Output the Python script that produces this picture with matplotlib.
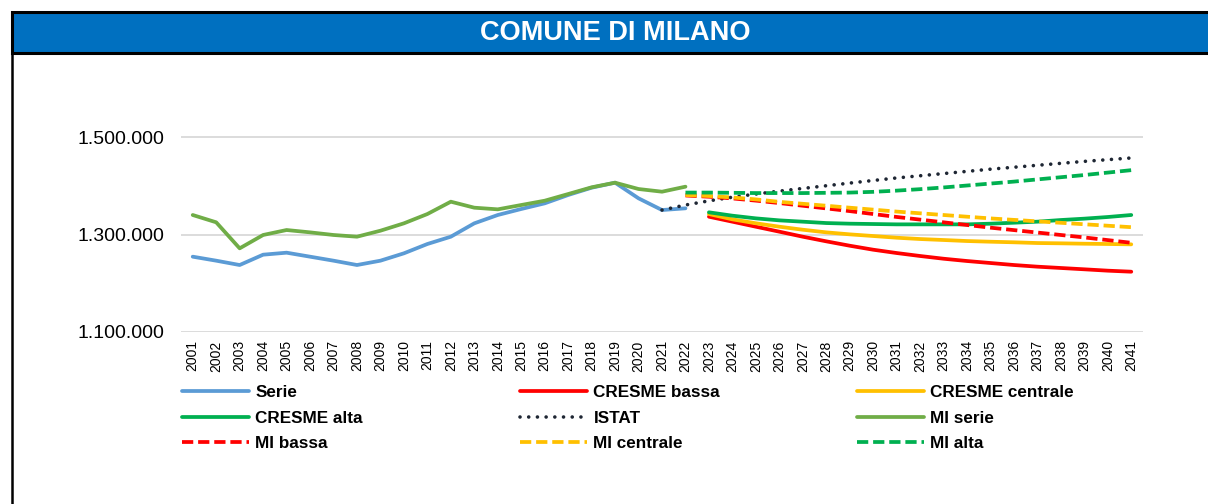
import numpy as np
import matplotlib
matplotlib.use('Agg')
import matplotlib.pyplot as plt
from matplotlib.patches import Rectangle
from matplotlib.lines import Line2D
from matplotlib.ticker import FuncFormatter

N = None
years = [str(y) for y in range(2001, 2042)]

serie = [1254500, 1246300, 1237400, 1258600, 1262700, 1254500, 1246300, 1237400,
         1246300, 1261400, 1280500, 1295500, 1322900, 1340000, 1352300, 1363900,
         1381000, 1396000, 1406300, 1374200, 1350200, 1353700] + [N] * 19
mi_serie = [1340000, 1325000, 1271600, 1299000, 1309200, 1304400, 1299000, 1295500,
            1307800, 1322900, 1342000, 1367300, 1355000, 1351600, 1360500, 1369300,
            1383000, 1396800, 1406300, 1393300, 1387800, 1398100] + [N] * 19
istat = [N] * 20 + [1350200, 1360500, 1369000, 1376500, 1383000, 1389000, 1394500,
                    1400000, 1405500, 1410800, 1416000, 1420500, 1425000, 1429500,
                    1434000, 1438000, 1442000, 1446000, 1450000, 1453500, 1457000]
mi_alta = [N] * 21 + [1386000, 1386000, 1385500, 1385000, 1385000, 1385000, 1385500,
                      1386000, 1387500, 1390000, 1393000, 1396500, 1400500, 1404500,
                      1408500, 1413000, 1417500, 1422000, 1427000, 1432000]
mi_centrale = [N] * 21 + [1381000, 1379000, 1376000, 1372000, 1367000, 1363000, 1359000,
                          1355000, 1351000, 1347000, 1343500, 1340000, 1336500, 1333000,
                          1330000, 1327000, 1324000, 1321000, 1318000, 1315000]
mi_bassa = [N] * 21 + [1380000, 1377500, 1374000, 1369500, 1364500, 1359000, 1353500,
                       1348000, 1342000, 1336000, 1330500, 1325000, 1319500, 1314000,
                       1309000, 1304000, 1299000, 1294000, 1288500, 1283000]
cresme_alta = [N] * 22 + [1345500, 1338600, 1333100, 1329000, 1326300, 1323500, 1322200,
                          1321500, 1320800, 1320800, 1320800, 1320800, 1322200, 1324200,
                          1326300, 1329700, 1332500, 1335900, 1340000]
cresme_centrale = [N] * 22 + [1342000, 1331100, 1323000, 1316000, 1309800, 1304400, 1300300,
                              1296900, 1293400, 1290700, 1288700, 1286600, 1285200, 1284000,
                              1282500, 1281900, 1281100, 1280500, 1279800]
cresme_bassa = [N] * 22 + [1336500, 1326300, 1316000, 1305800, 1295500, 1286000, 1277000,
                           1268800, 1262000, 1255900, 1250300, 1245600, 1241500, 1237400,
                           1234000, 1231300, 1228600, 1225800, 1223700]

title = "COMUNE DI MILANO"
y_ticks = [1100000, 1300000, 1500000]

W, H = 1208, 504
fig = plt.figure(figsize=(W / 100, H / 100), dpi=100)
fig.patch.set_facecolor('white')

def fx(px):
    return px / W

def fy(py):
    return 1 - py / H

# frame and title band
fig.patches.append(Rectangle((fx(12), fy(53)), fx(W + 10) - fx(12), fy(12) - fy(53),
                             transform=fig.transFigure, facecolor='#0070C0',
                             edgecolor='black', linewidth=2.2, zorder=1))
fig.lines.append(Line2D([fx(12), fx(12)], [fy(12), fy(H + 5)], transform=fig.transFigure,
                        color='black', linewidth=1.8))
fig.text(fx(615), fy(33), title, color='white', fontsize=19.5, fontweight='bold',
         family=['Liberation Sans', 'DejaVu Sans'], ha='center', va='center')

ax_left, ax_right = 181, 1143
ax_bottom = 332
ax_h = 243.75
ax = fig.add_axes([fx(ax_left), fy(ax_bottom), fx(ax_right) - fx(ax_left), ax_h / H])
ax.set_xlim(-0.5, len(years) - 0.5)
ax.set_ylim(1100000, 1600000)
for s in ax.spines.values():
    s.set_visible(False)
ax.set_yticks(y_ticks)
ax.yaxis.set_major_formatter(FuncFormatter(lambda v, p: f"{int(v):,}".replace(',', '.')))
ax.grid(axis='y', color='#D9D9D9', linewidth=1.3)
ax.set_axisbelow(True)
x = np.arange(len(years))
ax.set_xticks(x)
ax.set_xticklabels(years, rotation=90, fontsize=10, family=['Liberation Sans', 'DejaVu Sans'])
ax.tick_params(axis='x', length=0, pad=6)
ax.tick_params(axis='y', length=0, pad=12, labelsize=14)
for lab in ax.get_yticklabels():
    lab.set_family(['Liberation Sans', 'DejaVu Sans'])

def arr(v):
    return np.array([np.nan if a is None else a for a in v], dtype=float)

lw = 2.7
dash = (0, (3, 1.3))
dot = (0, (0.01, 2.4))
specs = [
    ("Serie", serie, '#5B9BD5', '-', lw),
    ("CRESME bassa", cresme_bassa, '#FF0000', '-', lw),
    ("CRESME centrale", cresme_centrale, '#FFC000', '-', lw),
    ("CRESME alta", cresme_alta, '#00B050', '-', lw),
    ("ISTAT", istat, '#1E2633', dot, 2.6),
    ("MI serie", mi_serie, '#70AD47', '-', lw),
    ("MI bassa", mi_bassa, '#FF0000', dash, lw),
    ("MI centrale", mi_centrale, '#FFC000', dash, lw),
    ("MI alta", mi_alta, '#00B050', dash, lw),
]
handles = {}
for name, vals, col, ls, w in specs:
    capstyle = 'round' if ls == dot else 'butt'
    h, = ax.plot(x, arr(vals), color=col, linestyle=ls, linewidth=w,
                 solid_capstyle='round', dash_capstyle=capstyle, label=name)
    handles[name] = h

cols = [["Serie", "CRESME alta", "MI bassa"],
        ["CRESME bassa", "ISTAT", "MI centrale"],
        ["CRESME centrale", "MI serie", "MI alta"]]
col_x = [182, 520, 857]
for cx, names in zip(col_x, cols):
    leg = fig.legend([handles[n] for n in names], names, loc='upper left',
                     bbox_to_anchor=(fx(cx), fy(385)), frameon=False, borderpad=0,
                     borderaxespad=0, handlelength=3.9, handletextpad=0.4,
                     labelspacing=0.62,
                     prop={'family': ['Liberation Sans', 'DejaVu Sans'],
                           'weight': 'bold', 'size': 12.3})

fig.savefig('out.png', dpi=100, facecolor='white')
